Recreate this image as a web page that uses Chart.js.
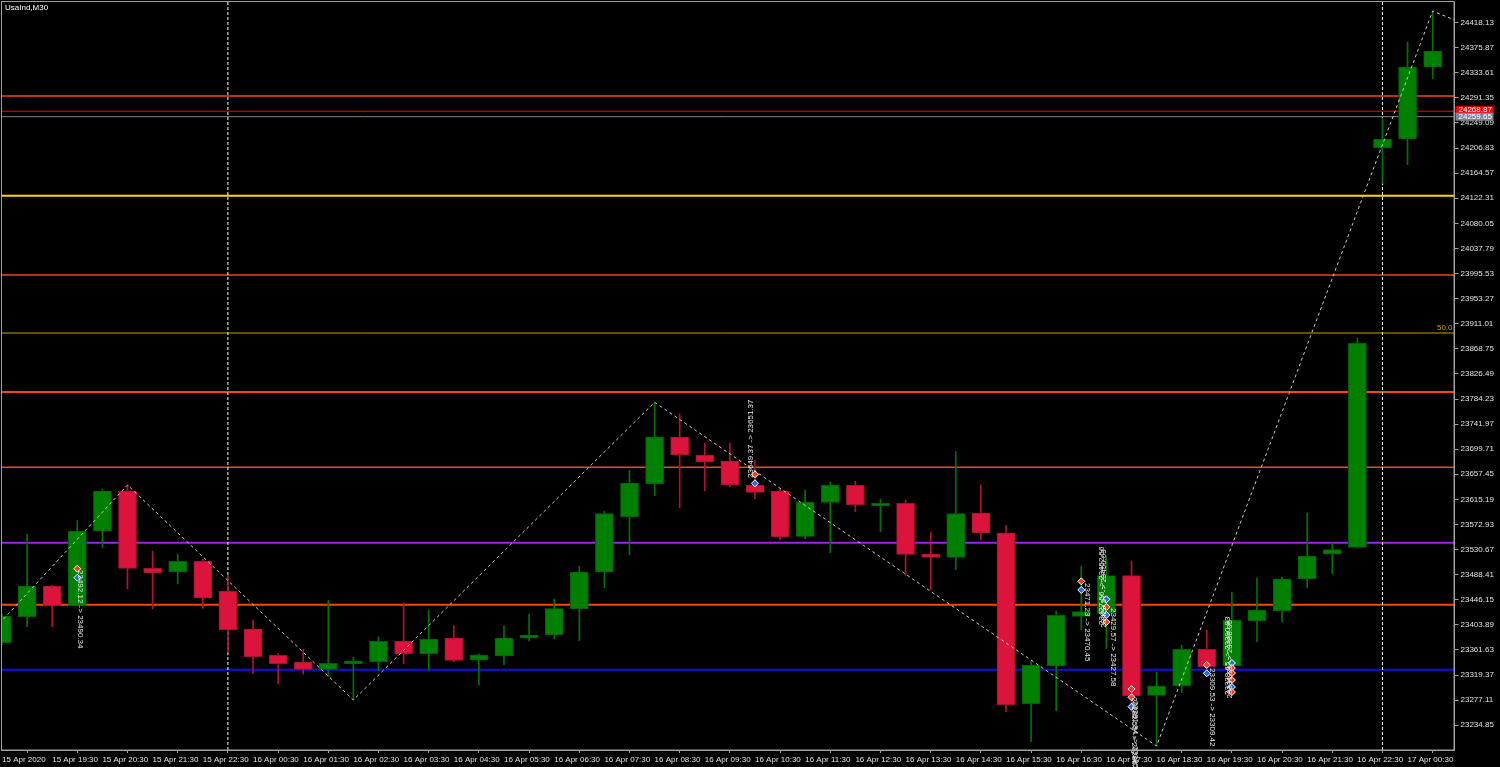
<!DOCTYPE html>
<html>
<head>
<meta charset="utf-8">
<script src="https://cdn.jsdelivr.net/npm/chart.js@4.4.0/dist/chart.umd.min.js"></script>
<style>
  html, body { margin: 0; padding: 0; background: #000; }
  #wrap { width: 1500px; height: 767px; position: relative; }
</style>
</head>
<body>
<div id="wrap"><canvas id="chart"></canvas></div>
<script>
// UsaInd M30 bars, one per half hour
const opens  = [23373.82, 23417.61, 23469.31, 23436.13, 23561.93, 23629.30, 23499.12, 23493.39, 23510.90, 23460.89,
                23396.89, 23352.60, 23341.32, 23329.02, 23338.45, 23341.82, 23376.68, 23355.29, 23381.73, 23344.68,
                23351.42, 23381.73, 23387.29, 23430.57, 23492.88, 23586.02, 23641.59, 23720.24, 23689.92, 23679.82,
                23639.40, 23629.30, 23553.01, 23610.27, 23638.90, 23604.54, 23608.58, 23523.20, 23517.64, 23592.25,
                23558.56, 23271.09, 23335.08, 23418.28, 23423.33, 23486.65, 23285.23, 23301.40, 23362.70, 23335.08,
                23410.87, 23427.71, 23481.60, 23523.20, 23534.48, 24207.45, 24222.10, 24343.36];
const highs  = [23422.15, 23556.88, 23470.99, 23579.28, 23632.67, 23639.40, 23528.25, 23523.20, 23514.27, 23487.83,
                23412.05, 23355.29, 23363.21, 23444.55, 23349.23, 23383.42, 23440.68, 23428.89, 23402.45, 23354.79,
                23401.94, 23422.15, 23447.41, 23502.99, 23595.11, 23664.16, 23778.68, 23758.97, 23710.13, 23710.13,
                23681.00, 23633.17, 23630.98, 23644.45, 23645.63, 23615.32, 23614.14, 23559.74, 23695.48, 23639.40,
                23571.53, 23342.49, 23427.20, 23502.99, 23518.65, 23511.41, 23324.47, 23369.95, 23395.21, 23459.20,
                23482.78, 23484.46, 23592.25, 23542.90, 23886.96, 24257.47, 24385.46, 24437.66];
const lows   = [23369.95, 23400.76, 23400.76, 23435.63, 23533.81, 23464.26, 23430.57, 23472.68, 23431.75, 23357.65,
                23321.61, 23304.77, 23321.11, 23316.56, 23277.32, 23326.16, 23338.45, 23327.84, 23341.82, 23302.58,
                23336.77, 23376.68, 23380.56, 23377.19, 23466.44, 23522.02, 23621.38, 23601.17, 23629.80, 23636.54,
                23616.33, 23547.28, 23548.97, 23525.39, 23594.44, 23560.71, 23487.33, 23462.57, 23496.76, 23547.28,
                23257.62, 23207.09, 23259.30, 23395.21, 23364.39, 23257.11, 23199.85, 23290.29, 23331.21, 23331.21,
                23375.50, 23408.68, 23466.44, 23490.02, 23533.30, 24147.50, 24178.82, 24323.65];
const closes = [23418.78, 23469.31, 23436.13, 23561.93, 23629.30, 23499.12, 23491.20, 23510.90, 23449.10, 23395.71,
                23350.24, 23338.45, 23329.02, 23339.13, 23343.00, 23376.18, 23355.29, 23380.05, 23344.18, 23353.10,
                23381.73, 23386.79, 23431.08, 23492.88, 23591.07, 23642.77, 23720.24, 23690.43, 23678.64, 23639.91,
                23627.11, 23551.83, 23610.77, 23638.90, 23606.22, 23608.58, 23522.69, 23517.64, 23591.07, 23558.56,
                23269.40, 23336.26, 23419.96, 23426.03, 23486.65, 23284.06, 23300.90, 23362.70, 23333.40, 23411.54,
                23428.89, 23481.10, 23519.83, 23530.44, 23878.04, 24222.10, 24343.36, 24370.30];

// time labels, every second bar
const xTickPos = [0, 2, 4, 6, 8, 10, 12, 14, 16, 18, 20, 22, 24, 26, 28, 30, 32, 34, 36, 38, 40, 42, 44, 46, 48, 50, 52, 54, 56];
const xTickLabels = ['15 Apr 2020', '15 Apr 19:30', '15 Apr 20:30', '15 Apr 21:30', '15 Apr 22:30',
  '16 Apr 00:30', '16 Apr 01:30', '16 Apr 02:30', '16 Apr 03:30', '16 Apr 04:30', '16 Apr 05:30',
  '16 Apr 06:30', '16 Apr 07:30', '16 Apr 08:30', '16 Apr 09:30', '16 Apr 10:30', '16 Apr 11:30',
  '16 Apr 12:30', '16 Apr 13:30', '16 Apr 14:30', '16 Apr 15:30', '16 Apr 16:30', '16 Apr 17:30',
  '16 Apr 18:30', '16 Apr 19:30', '16 Apr 20:30', '16 Apr 21:30', '16 Apr 22:30', '17 Apr 00:30'];

// price scale labels
const yTickValues = [23234.85, 23277.11, 23319.37, 23361.63, 23403.89, 23446.15, 23488.41, 23530.67, 23572.93,
  23615.19, 23657.45, 23699.71, 23741.97, 23784.23, 23826.49, 23868.75, 23911.01, 23953.27, 23995.53,
  24037.79, 24080.05, 24122.31, 24164.57, 24206.83, 24249.09, 24291.35, 24333.61, 24375.87, 24418.13];

// horizontal levels drawn on the chart
const levelPrices = [24294.60, 24268.87, 24259.65, 24126.60, 23993.06, 23895.38, 23796.02, 23669.21, 23542.23, 23437.82, 23328.35];
// zigzag turning points (bar index, price)
const zigzagBars   = [-0.1, 5, 14, 26, 46, 57, 57.87];
const zigzagPrices = [23406.32, 23639.40, 23277.32, 23778.68, 23199.85, 24437.66, 24422.50];
// period separators
const separatorBars = [9, 55];

// trade arrows (bar, price, kind: 0 = open/red, 1 = close/blue)
const markBars   = [3, 3, 30, 30, 43, 43, 44, 44, 44, 44, 45, 45, 45, 48, 48, 49, 49, 49, 49, 49, 49];
const markPrices = [23498.44, 23483.29, 23657.42, 23642.26, 23477.22, 23462.57, 23446.91, 23433.94, 23420.47, 23408.68,
                    23295.85, 23281.87, 23266.04, 23336.26, 23322.29, 23339.63, 23331.21, 23322.79, 23311.00, 23299.21, 23290.79];
const markKinds  = [0, 1, 0, 1, 0, 1, 1, 0, 1, 0, 0, 0, 1, 0, 1, 1, 0, 0, 0, 1, 0];

// trade descriptions (bar, anchor price, direction: 1 reads down, -1 reads up)
const noteBars   = [3.13, 29.84, 43.25, 43.82, 43.9, 44.28, 45.1, 45.15, 48.2, 48.84, 48.9];
const notePrices = [23496.25, 23651.19, 23474.36, 23403.63, 23399.0, 23432.26, 23281.87, 23276.0, 23331.21, 23285.74, 23280.0];
const noteDirs   = [1, -1, 1, -1, -1, 1, 1, 1, 1, -1, -1];
const noteTexts  = ['23492.12 -> 23490.34', '23649.37 -> 23651.37', '23471.23 -> 23470.45',
  '23427.56 -> 23452.56', '23429.57 -> 23450.63', '23429.57 -> 23427.58',
  '23282.55 -> 23286.32', '23281.94 -> 23285.40', '23309.53 -> 23309.42',
  '23338.65 -> 23390.83', '23331.21 -> 23388.05'];

const bidPrice = 24268.87;
const askPrice = 24259.65;
const fiboText = '50.0';
const fiboPrice = 23895.38;

const X_MIN = -0.04, X_MAX = 57.87;
const Y_MIN = 23193.11, Y_MAX = 24452.82;
const FAMILY = "'Liberation Sans', Arial, sans-serif";
const FONT = "8px " + FAMILY;

const levelColors = ['#ff4500', '#ff0000', '#778899', '#ffd700', '#e84a1a', '#c8a200', '#ff4500', '#e84a1a', '#a020f0', '#ff4500', '#1010e0'];
const levelWidths = [1.5, 1, 1, 2, 1.5, 1, 2, 1.5, 2, 2, 2];

const isUp = opens.map((o, i) => closes[i] >= o);

const datasets = [];
datasets.push({
  type: 'bar', label: 'wicks', order: 1, grouped: false, barThickness: 1,
  data: lows.map((l, i) => ({ x: i, y: [l, highs[i]] })),
  backgroundColor: isUp.map(u => u ? '#007400' : '#b41232')
});
datasets.push({
  type: 'bar', label: 'bodies', order: 0, grouped: false, barThickness: 18,
  data: opens.map((o, i) => ({ x: i, y: [o, closes[i]] })),
  backgroundColor: isUp.map(u => u ? '#008000' : '#dc143c'),
  borderColor: isUp.map(u => u ? '#006200' : '#a8102e'),
  borderWidth: 1, borderSkipped: false
});
levelPrices.forEach((p, k) => datasets.push({
  type: 'line', order: 5, data: [{ x: X_MIN, y: p }, { x: X_MAX, y: p }],
  borderColor: levelColors[k], borderWidth: levelWidths[k], pointRadius: 0
}));
separatorBars.forEach(b => datasets.push({
  type: 'line', order: 4, data: [{ x: b, y: Y_MIN }, { x: b, y: Y_MAX }],
  borderColor: '#ffffff', borderWidth: 1, borderDash: [3, 2], pointRadius: 0
}));
datasets.push({
  type: 'line', order: -1, data: zigzagBars.map((b, i) => ({ x: b, y: zigzagPrices[i] })),
  borderColor: '#d0c8b4', borderWidth: 1, borderDash: [3, 3], pointRadius: 0
});
datasets.push({
  type: 'line', order: -2, showLine: false,
  data: markBars.map((b, i) => ({ x: b, y: markPrices[i] })),
  pointStyle: 'rectRot', pointRadius: 3.5,
  pointBackgroundColor: markKinds.map(k => k ? '#1e6fe0' : '#ff3a1a'),
  pointBorderColor: '#ffffff', pointBorderWidth: 1
});

// scales must not push the plot area inwards for their edge labels
const noPadding = s => { s.paddingTop = 0; s.paddingBottom = 0; s.paddingLeft = 0; s.paddingRight = 0; };

const overlay = {
  id: 'overlay',
  afterDatasetsDraw(chart) {
    const { ctx, scales: { x, y } } = chart;
    ctx.save();
    ctx.font = FONT;
    ctx.fillStyle = '#e8e8e8';
    ctx.textAlign = 'left';
    ctx.textBaseline = 'middle';
    noteTexts.forEach((t, i) => {
      ctx.save();
      ctx.translate(x.getPixelForValue(noteBars[i]), y.getPixelForValue(notePrices[i]));
      ctx.rotate(noteDirs[i] * Math.PI / 2);
      ctx.fillText(t, 0, 0);
      ctx.restore();
    });
    ctx.restore();
  },
  afterDraw(chart) {
    const { ctx, chartArea: a, scales: { y } } = chart;
    ctx.save();
    ctx.strokeStyle = '#a0a0a0';
    ctx.lineWidth = 1;
    ctx.strokeRect(a.left + 0.5, a.top - 0.5, a.right - a.left - 1, a.bottom - a.top + 0.5);

    ctx.font = FONT;
    ctx.textBaseline = 'middle';
    ctx.fillStyle = '#ffffff';
    ctx.textAlign = 'left';
    ctx.fillText('UsaInd,M30', a.left + 4, a.top + 6);

    ctx.fillStyle = '#c8a200';
    ctx.textAlign = 'right';
    ctx.textBaseline = 'bottom';
    ctx.fillText(fiboText, a.right - 2, y.getPixelForValue(fiboPrice) - 1);

    // price boxes on the scale
    [[bidPrice, '#ff0000', -1], [askPrice, '#778899', 0]].forEach(([p, c, dy]) => {
      const py = y.getPixelForValue(p) + dy;
      ctx.fillStyle = c;
      ctx.fillRect(a.right + 1, py - 4, 38, 8);
      ctx.fillStyle = '#ffffff';
      ctx.textAlign = 'left';
      ctx.textBaseline = 'middle';
      ctx.fillText(p.toFixed(2), a.right + 4, py);
    });
    ctx.restore();
  }
};

new Chart(document.getElementById('chart'), {
  type: 'bar',
  data: { datasets },
  options: {
    responsive: true, maintainAspectRatio: false, animation: false,
    layout: { autoPadding: false, padding: { left: 1, top: 2, right: 0, bottom: 0 } },
    plugins: { legend: { display: false }, tooltip: { enabled: false } },
    scales: {
      x: {
        type: 'linear', min: X_MIN, max: X_MAX, offset: false,
        afterBuildTicks: s => { s.ticks = xTickPos.map(v => ({ value: v })); },
        afterFit: s => { s.height = 17; noPadding(s); },
        ticks: {
          autoSkip: false, maxRotation: 0, minRotation: 0, align: 'start', padding: 2,
          color: '#e0e0e0', font: { family: FAMILY, size: 8 },
          callback: v => xTickLabels[xTickPos.indexOf(v)] ?? ''
        },
        grid: { drawOnChartArea: false, color: '#a0a0a0', tickLength: 3 },
        border: { color: '#a0a0a0' }
      },
      y: {
        position: 'right', min: Y_MIN, max: Y_MAX,
        afterBuildTicks: s => { s.ticks = yTickValues.map(v => ({ value: v })); },
        afterFit: s => { s.width = 45.5; noPadding(s); },
        ticks: {
          padding: 2, color: '#e0e0e0',
          font: { family: FAMILY, size: 8 },
          callback: v => Number(v).toFixed(2)
        },
        grid: { drawOnChartArea: false, color: '#a0a0a0', tickLength: 4 },
        border: { color: '#a0a0a0' }
      }
    }
  },
  plugins: [overlay]
});
</script>
</body>
</html>
